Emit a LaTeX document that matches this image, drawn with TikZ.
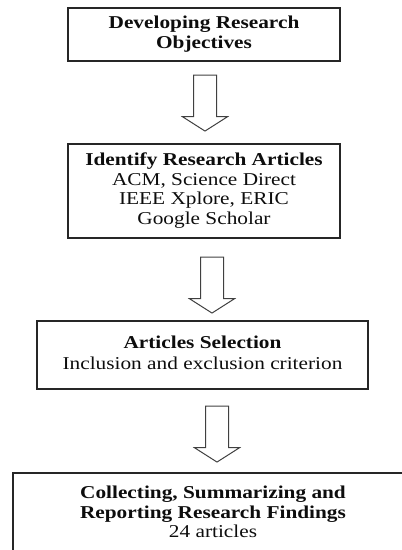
\documentclass[tikz,border=0pt]{standalone}
\usepackage{fontspec}
\setmainfont{Liberation Serif}
\usetikzlibrary{shapes.arrows}

% text in the boxes is a little flattened
\newcommand{\squash}[1]{\scalebox{1}[0.85]{\begin{tabular}{@{}c@{}}#1\end{tabular}}}

\begin{document}
\begin{tikzpicture}
	[x=1pt, y=-1pt,
	 stagebox/.style={draw=black!85, line width=1.1pt, minimum width=272pt,
	   inner sep=0pt, text=black!95, font=\fontsize{21.3}{23.5}\selectfont},
	 blockarrow/.style={single arrow, draw=black!75, line width=1pt, rotate=-90,
	   minimum height=56pt, minimum width=44pt, single arrow head extend=11pt,
	   single arrow tip angle=115, inner xsep=0pt, inner ysep=11pt, anchor=tail}]
   \useasboundingbox (0,0) rectangle (402,550);
   \node[stagebox, minimum height=53pt] (objectives) at (204,34.5)
      {\squash{\textbf{Developing Research}\\\textbf{Objectives}}};
   \node[stagebox, minimum height=94pt] (sources) at (204,191)
      {\squash{\textbf{Identify Research Articles}\\ACM, Science Direct\\IEEE Xplore, ERIC\\Google Scholar}};
   \node[stagebox, minimum width=331pt, minimum height=68pt] (selection) at (202.5,355)
      {\squash{\textbf{Articles Selection}\\[2pt]Inclusion and exclusion criterion}};
   \node[stagebox, minimum width=400pt, minimum height=82pt] (findings) at (213,514)
      {\squash{\textbf{Collecting, Summarizing and}\\\textbf{Reporting Research Findings}\\24 articles}};
   % hollow arrows between the stages
   \node[blockarrow] (step1) at ([shift={(1,13)}]objectives.south) {};
   \node[blockarrow] (step2) at ([shift={(8,18)}]sources.south) {};
   \node[blockarrow] (step3) at ([shift={(14.5,16)}]selection.south) {};
\end{tikzpicture}
\end{document}
